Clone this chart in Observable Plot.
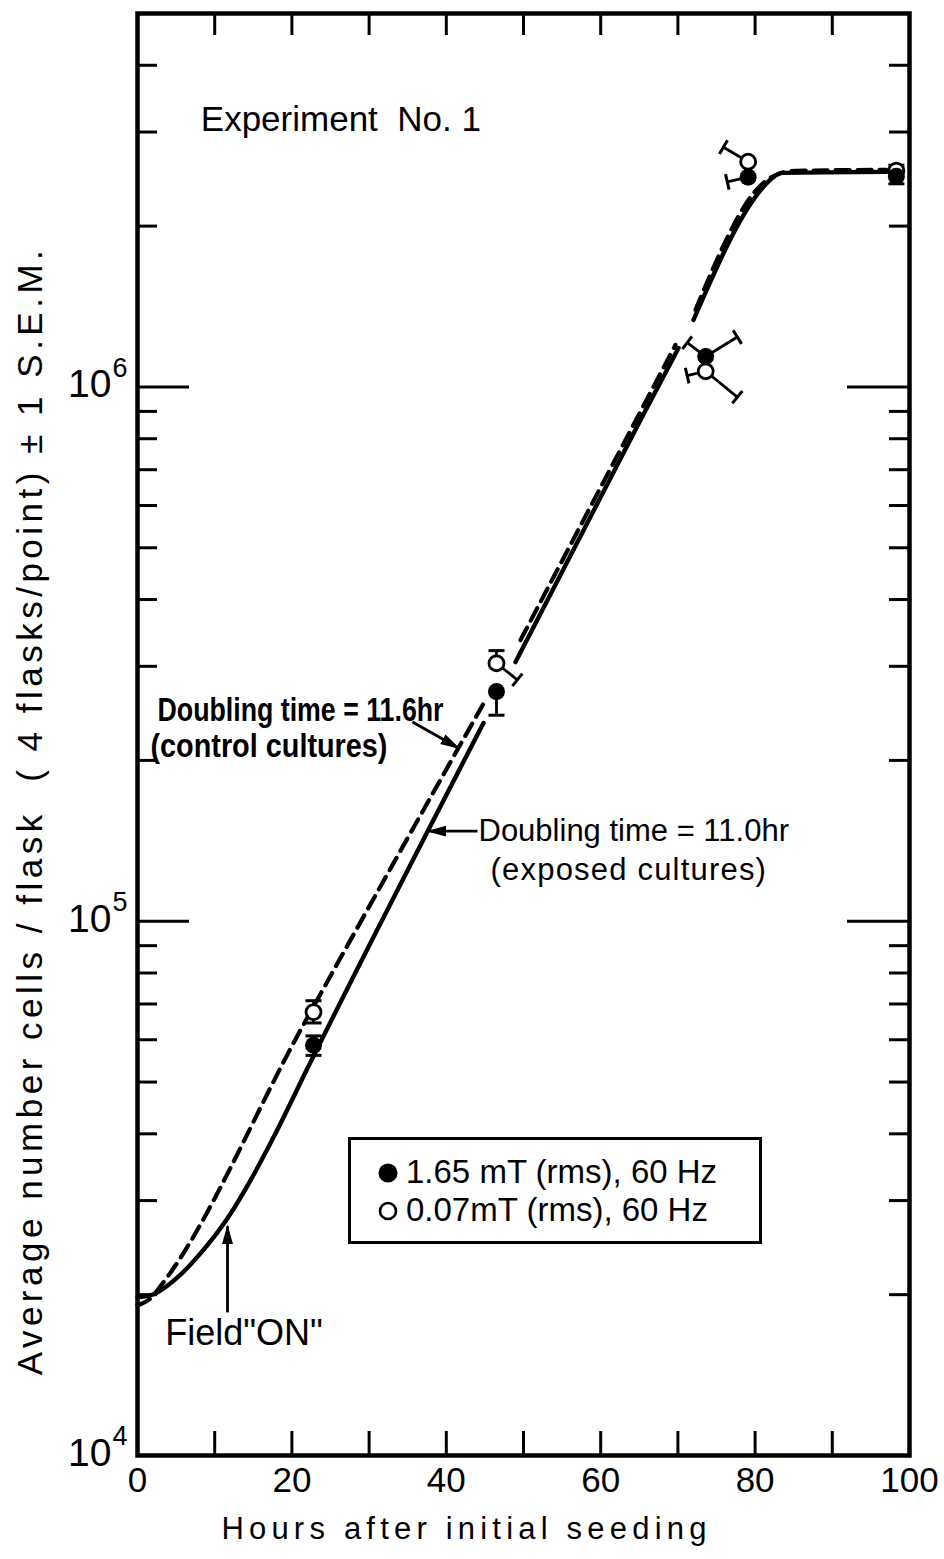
<!DOCTYPE html>
<html>
<head>
<meta charset="utf-8">
<script src="https://cdn.jsdelivr.net/npm/d3@7"></script>
<script src="https://cdn.jsdelivr.net/npm/@observablehq/plot@0.6"></script>
<style>
  html, body { margin: 0; padding: 0; background: #fff; }
  #wrap { position: relative; width: 944px; height: 1559px; background: #fff; }
  #legend { position: absolute; left: 348px; top: 1137px; width: 408px; height: 101px;
            border: 3.5px solid #000; font-family: "Liberation Sans", Arial, sans-serif;
            font-size: 33px; color: #000; background: #fff; }
  #legend .sym { position: absolute; }
  #legend .lab { position: absolute; left: 55px; line-height: 36px; white-space: nowrap; }
</style>
</head>
<body>
<div id="wrap">
  <div id="legend">
    <svg class="sym" style="left:26px;top:22px" width="22" height="22"><circle cx="11" cy="11" r="9.5" fill="#000"/></svg>
    <div class="lab" style="top:14px">1.65 mT (rms), 60 Hz</div>
    <svg class="sym" style="left:26px;top:60px" width="22" height="22"><circle cx="11" cy="11" r="8" fill="#fff" stroke="#000" stroke-width="2.6"/></svg>
    <div class="lab" style="top:52px">0.07mT (rms), 60 Hz</div>
  </div>
</div>
<script>
// ---------- axis ticks ----------
const xTicks = [10, 20, 30, 40, 50, 60, 70, 80, 90];
const xLabels = [0, 20, 40, 60, 80, 100];
const yMajor = [1e4, 1e5, 1e6];
const yExponents = ["4", "5", "6"];
const yMinor = [2e4, 3e4, 4e4, 5e4, 6e4, 7e4, 8e4, 9e4,
                2e5, 3e5, 4e5, 5e5, 6e5, 7e5, 8e5, 9e5,
                2e6, 3e6, 4e6];

// ---------- measured points (hours after seeding, cells/flask) ----------
const sampleHours = [22.8, 46.5, 73.6, 79.1, 98.3];
const exposedCells = [5.86e4, 2.69e5, 1.14e6, 2.47e6, 2.48e6];   // 1.65 mT (filled)
const controlCells = [6.76e4, 3.04e5, 1.07e6, 2.64e6, 2.54e6];   // 0.07 mT (open)

// S.E.M. whiskers: [hour, cells, end hour, end cells]
const exposedWhiskers = [
  [22.8, 5.86e4, 22.8, 6.10e4], [22.8, 5.86e4, 22.8, 5.61e4],
  [46.5, 2.69e5, 46.5, 2.43e5],
  [73.6, 1.14e6, 71.2, 1.21e6], [73.6, 1.14e6, 77.7, 1.24e6],
  [79.1, 2.47e6, 76.4, 2.42e6],
  [98.3, 2.48e6, 98.3, 2.40e6]
];
const controlWhiskers = [
  [22.8, 6.76e4, 22.8, 7.10e4], [22.8, 6.76e4, 22.8, 6.45e4],
  [46.5, 3.04e5, 46.5, 3.21e5], [46.5, 3.04e5, 49.2, 2.83e5],
  [73.6, 1.07e6, 71.2, 1.05e6], [73.6, 1.07e6, 77.7, 9.57e5],
  [79.1, 2.64e6, 75.9, 2.81e6],
  [98.3, 2.54e6, 98.3, 2.60e6]
];

// ---------- fitted growth curves (null = break in the drawn line) ----------
const exposedCurveHours = [0, 2.33, 5.18, 8.16, 11.66, 14.64, 17.62, 22.02, 44.82, null,
                           48.96, 65.16, 70.08, null, 72.02, 81.09, 82.25, 83.55, 97.02];
const exposedCurveCells = [19770, 20110, 21540, 23890, 27790, 32730, 39400, 53050, 234900, null,
                           305500, 867700, 1183000, null, 1335000, 2369000, 2463000, 2516000, 2527000];
const controlCurveHours = [0, 1.68, 3.24, 21.11, 45.08, null, 49.61, 69.69, null,
                           72.28, 81.09, 83.03, 85.23, 97.02];
const controlCurveCells = [19100, 19680, 20990, 62520, 259400, null, 335900, 1199000, null,
                           1394000, 2410000, 2505000, 2538000, 2549000];

// ---------- annotations (anchored in data units) ----------
const experimentNote = [{h: 8.2, c: 3.16e6, t: "Experiment  No. 1"}];
const controlNote = [{h: 2.59, c: 2.484e5, t: "Doubling time = 11.6hr"}, {h: 1.68, c: 2.126e5, t: "(control cultures)"}];
const exposedNote = [{h: 44.17, c: 1.474e5, t: "Doubling time = 11.0hr"}, {h: 45.73, c: 1.246e5, t: "(exposed cultures)"}];
const fieldNote = [{h: 3.6, c: 1.69e4, t: "Field\"ON\""}];
const annotationArrows = [
  [35.62, 2.359e5, 41.58, 2.109e5],
  [44.04, 1.474e5, 37.69, 1.474e5],
  [11.66, 1.853e4, 11.66, 2.685e4]
];

const toRows = (hs, cs) => hs.map((h, i) => ({h, c: cs[i]}));

function asMarker(sel) {
  const node = sel.node();
  node.node = () => node;   // works whether Plot expects a node or a selection
  return node;
}
function capMarker(color) {
  const m = d3.create("svg:marker")
    .attr("viewBox", "-10 -10 20 20")
    .attr("markerUnits", "userSpaceOnUse")
    .attr("markerWidth", 20).attr("markerHeight", 20)
    .attr("orient", "auto");
  m.append("path").attr("d", "M0,-8V8").attr("stroke", color).attr("stroke-width", 3).attr("fill", "none");
  return asMarker(m);
}
function headMarker(color) {
  const m = d3.create("svg:marker")
    .attr("viewBox", "-18 -8 20 16")
    .attr("markerUnits", "userSpaceOnUse")
    .attr("markerWidth", 20).attr("markerHeight", 16)
    .attr("orient", "auto");
  m.append("path").attr("d", "M-18,-5.5L2,0L-18,5.5Z").attr("fill", color).attr("stroke", "none");
  return asMarker(m);
}

const chart = Plot.plot({
  width: 944, height: 1559,
  marginLeft: 137, marginRight: 35, marginTop: 13, marginBottom: 104,
  style: {fontFamily: "'Liberation Sans', Arial, sans-serif", background: "#fff", color: "#000", overflow: "visible"},
  x: {domain: [0, 100], axis: null},
  y: {type: "log", domain: [1e4, 5e6], axis: null},
  marks: [
    // inward ticks
    Plot.ruleX(xTicks, {x: d => d, y1: 1e4, y2: 1e4, insetTop: -24, strokeWidth: 3}),
    Plot.ruleX(xTicks, {x: d => d, y1: 5e6, y2: 5e6, insetBottom: -22, strokeWidth: 3}),
    Plot.ruleY(yMinor, {y: d => d, x1: 0, x2: 0, insetRight: -20, strokeWidth: 3}),
    Plot.ruleY(yMajor, {y: d => d, x1: 0, x2: 0, insetRight: -52, strokeWidth: 3}),
    Plot.ruleY(yMinor, {y: d => d, x1: 100, x2: 100, insetLeft: -20, strokeWidth: 3}),
    Plot.ruleY(yMajor, {y: d => d, x1: 100, x2: 100, insetLeft: -62, strokeWidth: 3}),
    // tick labels
    Plot.text(xLabels, {x: d => d, frameAnchor: "bottom", dy: 36, text: d => String(d), fontSize: 35}),
    Plot.text(yMajor, {y: d => d, frameAnchor: "left", dx: -26, dy: -2, textAnchor: "end", text: () => "10", fontSize: 39}),
    Plot.text(yMajor, {y: d => d, frameAnchor: "left", dx: -25, dy: -19, textAnchor: "start", text: (d, i) => yExponents[i], fontSize: 27}),
    // axis titles
    Plot.text(["Hours after initial seeding"], {frameAnchor: "bottom", dx: -57, dy: 83, textAnchor: "middle", text: d => d, fontSize: 31}),
    Plot.text(["Average number cells / flask\u00a0\u00a0( 4 flasks/point) \u00b1 1 S.E.M."], {frameAnchor: "left", dx: -107, dy: 76, rotate: -90, textAnchor: "middle", text: d => d, fontSize: 35}),
    // curves
    Plot.line(toRows(exposedCurveHours, exposedCurveCells), {x: "h", y: "c", curve: "monotone-x", strokeWidth: 4.4, stroke: "#000"}),
    Plot.line(toRows(controlCurveHours, controlCurveCells), {x: "h", y: "c", curve: "monotone-x", strokeWidth: 4.2, stroke: "#000", strokeDasharray: "14,8"}),
    // whiskers
    Plot.link(exposedWhiskers, {x1: d => d[0], y1: d => d[1], x2: d => d[2], y2: d => d[3], strokeWidth: 2.8, stroke: "#000", markerEnd: capMarker}),
    Plot.link(controlWhiskers, {x1: d => d[0], y1: d => d[1], x2: d => d[2], y2: d => d[3], strokeWidth: 2.8, stroke: "#000", markerEnd: capMarker}),
    // points
    Plot.dot(sampleHours, {x: d => d, y: (d, i) => controlCells[i], r: 7.5, fill: "#fff", stroke: "#000", strokeWidth: 2.8}),
    Plot.dot(sampleHours, {x: d => d, y: (d, i) => exposedCells[i], r: 8.5, fill: "#000", stroke: "none"}),
    // annotation arrows
    Plot.link(annotationArrows, {x1: d => d[0], y1: d => d[1], x2: d => d[2], y2: d => d[3], strokeWidth: 2.8, stroke: "#000", markerEnd: headMarker}),
    // annotation texts
    Plot.text(experimentNote, {x: "h", y: "c", text: "t", textAnchor: "start", fontSize: 35}),
    Plot.text(controlNote, {x: "h", y: "c", text: "t", textAnchor: "start", fontSize: 33, fontWeight: "bold"}),
    Plot.text(exposedNote, {x: "h", y: "c", text: "t", textAnchor: "start", fontSize: 31}),
    Plot.text(fieldNote, {x: "h", y: "c", text: "t", textAnchor: "start", fontSize: 36}),
    Plot.frame({stroke: "#000", strokeWidth: 4.5})
  ]
});

document.getElementById("wrap").prepend(chart);

// lettering adjustments: spaced-out titles, condensed bold note
d3.select(chart).selectAll("text").each(function () {
  const t = this.textContent;
  if (t.startsWith("Average")) this.setAttribute("letter-spacing", "4.5");
  else if (t.startsWith("Hours")) this.setAttribute("letter-spacing", "5.2");
  else if (t.startsWith("(exposed")) this.setAttribute("letter-spacing", "1.2");
  else if (t === "Doubling time = 11.6hr") { this.setAttribute("textLength", "286"); this.setAttribute("lengthAdjust", "spacingAndGlyphs"); }
  else if (t === "(control cultures)") { this.setAttribute("textLength", "237"); this.setAttribute("lengthAdjust", "spacingAndGlyphs"); }
});
</script>
</body>
</html>
